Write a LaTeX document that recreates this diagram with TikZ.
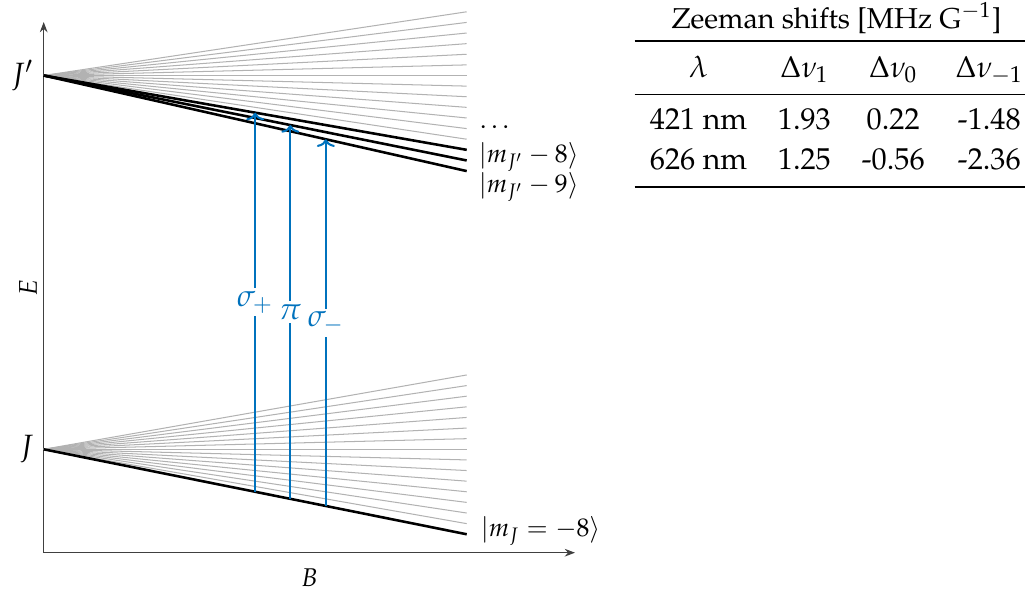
\documentclass[tikz,border=0pt]{standalone}
\usepackage[T1]{fontenc}
\usepackage{amsmath}
\usepackage{mathpazo}
\usepackage{booktabs}
\usetikzlibrary{arrows.meta,calc}

\definecolor{transblue}{RGB}{0,114,189}

\begin{document}
\begin{tikzpicture}[
  x=0.39pt,
  y=-0.39pt,
  axis/.style={draw=black!75,line width=0.55pt,-{Stealth[length=4pt,width=3pt]}},
  sublevel/.style={draw=black!30,line width=0.4pt},
  mainlevel/.style={draw=black,line width=1pt},
  transition/.style={draw=transblue,line width=0.8pt,-{To[length=3pt,width=7pt]}},
  translabel/.style={midway,fill=white,text=transblue,inner sep=1.2pt,font=\large},
  statelabel/.style={anchor=west,inner sep=1pt},
  levellabel/.style={anchor=east,inner sep=1pt,font=\large}
]
\useasboundingbox (0,0) rectangle (1025,591);

% Axes
\coordinate (origin) at (43.7,552.7);
\draw[axis] (origin) -- (43.7,22) coordinate (etop);
\draw[axis] (origin) -- (575,552.7) coordinate (bend);
\node[rotate=90] (elabel) at (28,288) {$E$};
\node (blabel) at ($(origin)!0.5!(bend)+(0,25)$) {$B$};

% Ground and excited levels
\coordinate (J) at (43.7,449.3);
\coordinate (Jp) at (43.7,75.5);
\node[levellabel] (jlabel) at ($(J)+(-7,0)$) {$J$};
\node[levellabel] (jplabel) at ($(Jp)+(-7,0)$) {$J'$};

% Zeeman fans
\foreach \m in {-8,...,7}
  \draw[sublevel] (J) -- (466.7,{449.3-10.62*\m}) coordinate (lo\m);
\foreach \m in {-9,...,6}
  \draw[sublevel] (Jp) -- (466.7,{75.5-10.62*\m}) coordinate (up\m);
\draw[mainlevel] (J) -- (lo-8);
\foreach \m in {-9,-8,-7}
  \draw[mainlevel] (Jp) -- (up\m);

% State labels
\node[statelabel] (dots) at ($(up-6)+(10,-12.5)$) {$\dots$};
\node[statelabel] (m8) at ($(up-8)+(9,-3.5)$) {$\lvert m_{J'}-8\rangle$};
\node[statelabel] (m9) at ($(up-9)+(9,16)$) {$\lvert m_{J'}-9\rangle$};
\node[statelabel] (mj) at ($(lo-8)+(11,-3)$) {$\lvert m_J=-8\rangle$};

% Transitions
\draw[transition] ($(J)!0.5!(lo-8)$) -- node[translabel] {$\sigma_+$} ($(Jp)!0.5!(up-7)$);
\draw[transition] ($(J)!0.583!(lo-8)$) -- node[translabel] {$\pi$} ($(Jp)!0.583!(up-8)$);
\draw[transition] ($(J)!0.667!(lo-8)$) -- node[translabel] {$\sigma_-$} ($(Jp)!0.667!(up-9)$);

% Zeeman shift table
\node[anchor=north west,inner sep=0pt,font=\fontsize{11.8}{15.5}\selectfont] (shifts) at (634,0) {%
  \begin{tabular}{cccc}
    \multicolumn{4}{c}{\fontsize{11.2}{14}\selectfont Zeeman shifts [MHz G$^{-1}$]}\\
    \toprule
    $\lambda$ & $\Delta\nu_1$ & $\Delta\nu_0$ & $\Delta\nu_{-1}$\\
    \midrule
    421 nm & 1.93 & 0.22 & -1.48\\
    626 nm & 1.25 & -0.56 & -2.36\\
    \bottomrule
  \end{tabular}};

\end{tikzpicture}
\end{document}
